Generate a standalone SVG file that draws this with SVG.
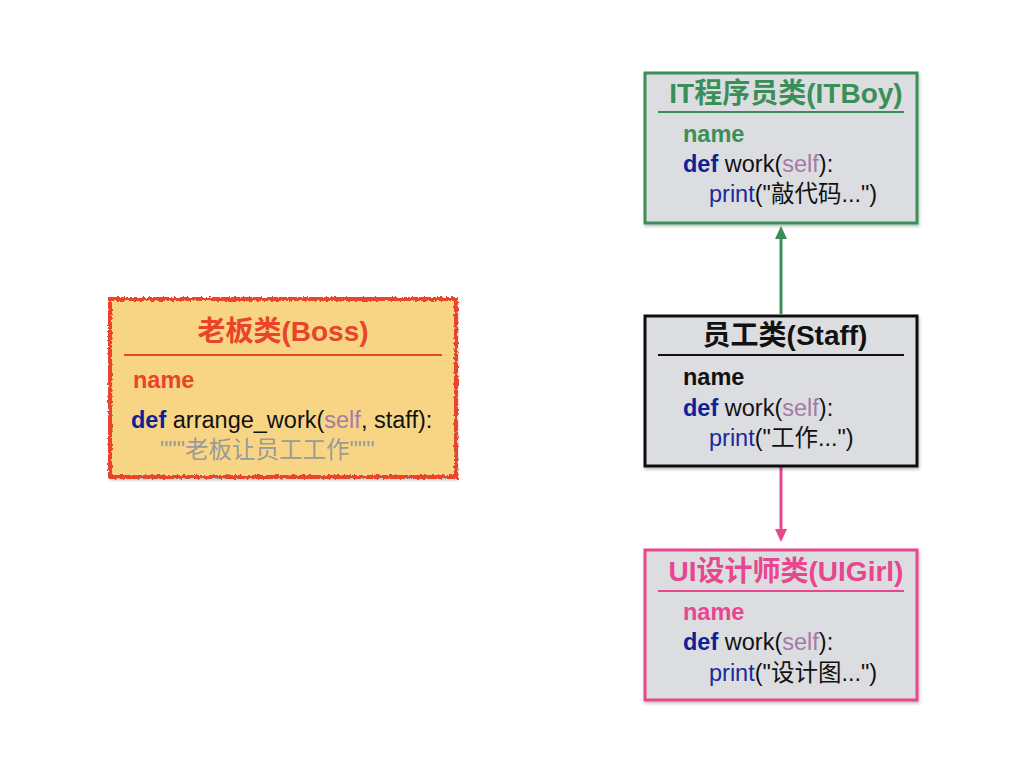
<svg xmlns="http://www.w3.org/2000/svg" width="1024" height="768" viewBox="0 0 1024 768">
<defs>
<style>
text{font-family:"Liberation Sans","Noto Sans CJK SC",sans-serif;font-size:23.5px;fill:#111}
.t{font-size:28px;font-weight:bold;text-anchor:middle}
.b{font-weight:bold}
.kw{fill:#0f2196;font-weight:bold}
.self{fill:#a57aa8}
.pr{fill:#1a2a9a}
.box{fill:#dcdde0;stroke-width:3}
</style>
<filter id="rough" x="-5%" y="-5%" width="110%" height="110%">
<feTurbulence type="fractalNoise" baseFrequency="0.35" numOctaves="2" seed="3"/>
<feDisplacementMap in="SourceGraphic" scale="4"/>
</filter>
<filter id="sh" x="-5%" y="-5%" width="115%" height="115%">
<feDropShadow dx="1" dy="2" stdDeviation="1.5" flood-opacity="0.25"/>
</filter>
</defs>
<rect width="1024" height="768" fill="#ffffff"/>

<g id="connectors">
<line x1="781" y1="314" x2="781" y2="236" stroke="#3a8f58" stroke-width="3"/>
<polygon points="781,226 775,239 787,239" fill="#3a8f58"/>
<line x1="781" y1="467" x2="781" y2="532" stroke="#e8468e" stroke-width="3"/>
<polygon points="781,542 775,529 787,529" fill="#e8468e"/>
</g>

<g id="boss">
<rect x="109" y="298" width="348" height="180" fill="#f8d584" filter="url(#sh)"/>
<rect x="110" y="299" width="346" height="178" fill="none" stroke="#e8442a" stroke-width="4" filter="url(#rough)"/>
<text x="283" y="341" class="t" style="fill:#e8442a">老板类(Boss)</text>
<line x1="124" y1="355" x2="442" y2="355" stroke="#e8442a" stroke-width="2"/>
<text x="133" y="388" class="b" style="fill:#e8442a">name</text>
<text x="131" y="428"><tspan class="kw">def</tspan> arrange_work(<tspan class="self">self</tspan>, staff):</text>
<text x="160" y="458" style="fill:#9a9a9a">"""老板让员工工作"""</text>
</g>

<g id="itboy">
<rect x="645" y="73" width="272" height="150" class="box" stroke="#3a8f58" filter="url(#sh)"/>
<text x="786" y="103" class="t" style="fill:#3a8f58">IT程序员类(ITBoy)</text>
<line x1="658" y1="112" x2="904" y2="112" stroke="#3a8f58" stroke-width="2"/>
<text x="683" y="142" class="b" style="fill:#3a8f58">name</text>
<text x="683" y="172"><tspan class="kw">def</tspan> work(<tspan class="self">self</tspan>):</text>
<text x="709" y="202"><tspan class="pr">print</tspan>("敲代码...")</text>
</g>

<g id="staff">
<rect x="645" y="316" width="272" height="150" class="box" stroke="#111" filter="url(#sh)"/>
<text x="785" y="345" class="t">员工类(Staff)</text>
<line x1="658" y1="355" x2="904" y2="355" stroke="#111" stroke-width="2"/>
<text x="683" y="385" class="b">name</text>
<text x="683" y="416"><tspan class="kw">def</tspan> work(<tspan class="self">self</tspan>):</text>
<text x="709" y="446"><tspan class="pr">print</tspan>("工作...")</text>
</g>

<g id="uigirl">
<rect x="645" y="550" width="272" height="150" class="box" stroke="#e8468e" filter="url(#sh)"/>
<text x="786" y="581" class="t" style="fill:#e8468e">UI设计师类(UIGirl)</text>
<line x1="658" y1="591" x2="904" y2="591" stroke="#e8468e" stroke-width="2"/>
<text x="683" y="620" class="b" style="fill:#e8468e">name</text>
<text x="683" y="650"><tspan class="kw">def</tspan> work(<tspan class="self">self</tspan>):</text>
<text x="709" y="681"><tspan class="pr">print</tspan>("设计图...")</text>
</g>
</svg>
